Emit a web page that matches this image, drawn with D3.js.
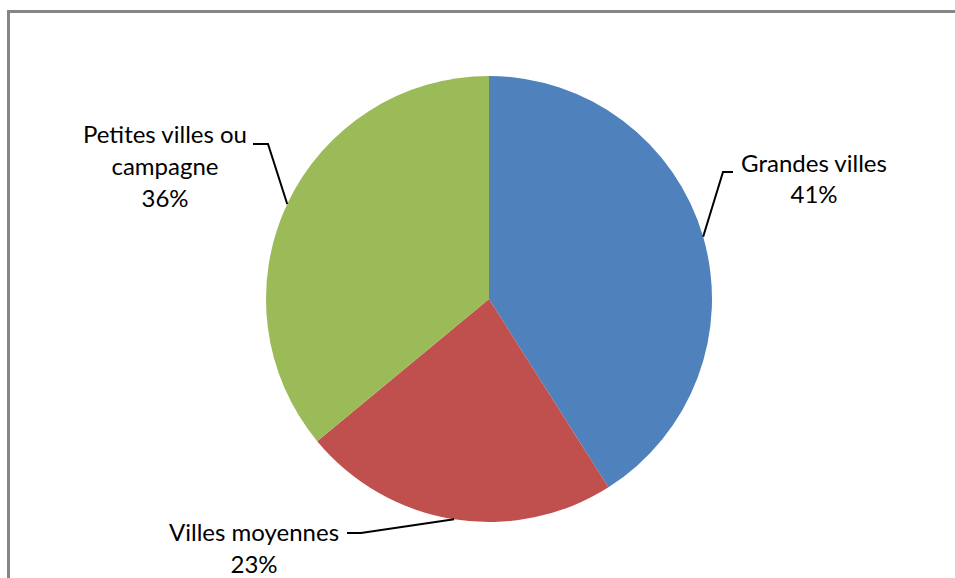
<!DOCTYPE html>
<html>
<head>
<meta charset="utf-8">
<script src="https://cdn.jsdelivr.net/npm/d3@7"></script>
<style>
  body { margin: 0; background: #fff; }
  svg { display: block; }
  text { font-family: Lato, "Open Sans", sans-serif; fill: #000; }
</style>
</head>
<body>
<div id="chart"></div>
<script>
const categories = ["Grandes villes", "Villes moyennes", "Petites villes ou campagne"]
const values = [41, 23, 36]
const colors = ["#4F81BD", "#C0504D", "#9BBB59"]
// label lines (wrapped as in the original)
const labelLines = [["Grandes villes"], ["Villes moyennes"], ["Petites villes ou", "campagne"]]

const width = 955, height = 578
const cx = 489, cy = 299, radius = 223
// where each label sits, relative to pie centre: elbow of the leader, end of the leader, text anchor
const labelLayout = [
    { elbow: [234, -127], end: [244, -127], text: [325, -127], lineH: 31 },
    { elbow: [-128, 234], end: [-142, 234], text: [-235, 242], lineH: 32 },
    { elbow: [-221, -155], end: [-236, -155], text: [-324, -156], lineH: 32 }
]

const svg = d3.select("#chart").append("svg")
    .attr("width", width)
    .attr("height", height)

svg.append("rect")
    .attr("x", 8.5).attr("y", 11.5)
    .attr("width", width).attr("height", height)
    .attr("fill", "none")
    .attr("stroke", "#868686")
    .attr("stroke-width", 3)

const g = svg.append("g")
    .attr("transform", "translate(" + cx + "," + cy + ")")

const pie = d3.pie().sort(null).value(d => d)
const arcs = pie(values)
const arc = d3.arc().innerRadius(0).outerRadius(radius)

g.selectAll("path.slice")
    .data(arcs)
    .enter().append("path")
    .attr("class", "slice")
    .attr("d", arc)
    .attr("fill", (d, i) => colors[i])

// leader lines from the edge of each slice
g.selectAll("polyline")
    .data(arcs)
    .enter().append("polyline")
    .attr("fill", "none")
    .attr("stroke", "#000")
    .attr("stroke-width", 2)
    .attr("points", (d, i) => {
        const a = (d.startAngle + d.endAngle) / 2
        const p0 = [radius * Math.sin(a), -radius * Math.cos(a)]
        const L = labelLayout[i]
        return [p0, L.elbow, L.end].map(p => p.join(",")).join(" ")
    })

arcs.forEach((d, i) => {
    const L = labelLayout[i]
    const lines = labelLines[i].concat([values[i] + "%"])
    const t = g.append("text")
        .attr("text-anchor", "middle")
        .attr("font-size", 24)
        .attr("transform", "translate(" + L.text[0] + "," + L.text[1] + ")")
    lines.forEach((s, k) => {
        t.append("tspan")
            .attr("x", 0)
            .attr("y", k * L.lineH)
            .text(s)
    })
})
</script>
</body>
</html>
